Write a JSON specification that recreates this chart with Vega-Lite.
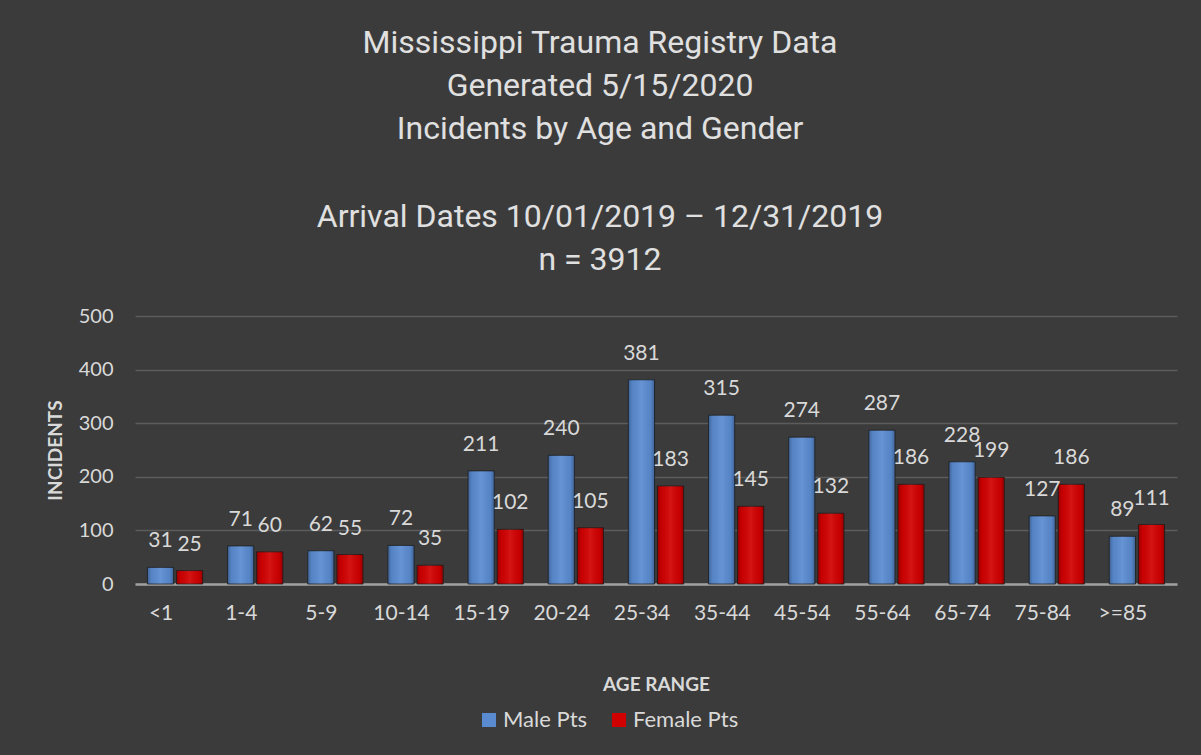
{
  "$schema": "https://vega.github.io/schema/vega-lite/v6.json",
  "width": 1042,
  "height": 268,
  "autosize": {"type": "none"},
  "padding": {"left": 135, "top": 316, "right": 24, "bottom": 171},
  "background": "#3b3b3b",
  "config": {
    "view": {"stroke": null},
    "font": "Lato",
    "axis": {"labelColor": "#d9d9d9", "titleColor": "#d9d9d9", "labelFont": "Lato", "titleFont": "Lato"}
  },
  "title": {
    "text": ["Mississippi Trauma Registry Data", "Generated 5/15/2020", "Incidents by Age and Gender"],
    "subtitle": ["Arrival Dates 10/01/2019 – 12/31/2019", "n = 3912"],
    "font": "Roboto",
    "fontSize": 32,
    "fontWeight": "normal",
    "color": "#e0e0e0",
    "lineHeight": 43,
    "subtitleFont": "Roboto",
    "subtitleFontSize": 32,
    "subtitleFontWeight": "normal",
    "subtitleColor": "#e0e0e0",
    "subtitleLineHeight": 43,
    "subtitlePadding": 56,
    "anchor": "middle",
    "dx": -56,
    "offset": 29
  },
  "data": {
    "values": [
      {"age": "<1", "gender": "Male Pts", "n": 31},
      {"age": "<1", "gender": "Female Pts", "n": 25},
      {"age": "1-4", "gender": "Male Pts", "n": 71},
      {"age": "1-4", "gender": "Female Pts", "n": 60},
      {"age": "5-9", "gender": "Male Pts", "n": 62},
      {"age": "5-9", "gender": "Female Pts", "n": 55},
      {"age": "10-14", "gender": "Male Pts", "n": 72},
      {"age": "10-14", "gender": "Female Pts", "n": 35},
      {"age": "15-19", "gender": "Male Pts", "n": 211},
      {"age": "15-19", "gender": "Female Pts", "n": 102},
      {"age": "20-24", "gender": "Male Pts", "n": 240},
      {"age": "20-24", "gender": "Female Pts", "n": 105},
      {"age": "25-34", "gender": "Male Pts", "n": 381},
      {"age": "25-34", "gender": "Female Pts", "n": 183},
      {"age": "35-44", "gender": "Male Pts", "n": 315},
      {"age": "35-44", "gender": "Female Pts", "n": 145},
      {"age": "45-54", "gender": "Male Pts", "n": 274},
      {"age": "45-54", "gender": "Female Pts", "n": 132},
      {"age": "55-64", "gender": "Male Pts", "n": 287},
      {"age": "55-64", "gender": "Female Pts", "n": 186},
      {"age": "65-74", "gender": "Male Pts", "n": 228},
      {"age": "65-74", "gender": "Female Pts", "n": 199},
      {"age": "75-84", "gender": "Male Pts", "n": 127},
      {"age": "75-84", "gender": "Female Pts", "n": 186},
      {"age": ">=85", "gender": "Male Pts", "n": 89},
      {"age": ">=85", "gender": "Female Pts", "n": 111}
    ]
  },
  "encoding": {
    "x": {
      "field": "age", "type": "nominal",
      "sort": ["<1","1-4","5-9","10-14","15-19","20-24","25-34","35-44","45-54","55-64","65-74","75-84",">=85"],
      "scale": {"paddingInner": 0.31, "paddingOuter": 0.155},
      "axis": {
        "title": "AGE RANGE", "titleFontSize": 19, "titleFontWeight": "bold", "titlePadding": 52,
        "labelAngle": 0, "labelFontSize": 21, "labelPadding": 18, "labelOffset": -14,
        "ticks": false, "domainColor": "#a0a0a0", "domainWidth": 2.5
      }
    },
    "xOffset": {"field": "gender", "type": "nominal", "sort": ["Male Pts", "Female Pts"], "scale": {"paddingInner": 0.1}},
    "y": {
      "field": "n", "type": "quantitative",
      "scale": {"domain": [0, 500]},
      "axis": {
        "title": "INCIDENTS", "titleFontSize": 19, "titleFontWeight": "bold", "titlePadding": 13,
        "values": [0, 100, 200, 300, 400, 500],
        "labelFontSize": 20, "labelPadding": 22, "ticks": false, "domain": false,
        "gridColor": "#5c5c5c", "gridWidth": 1.5
      }
    }
  },
  "layer": [
    {
      "mark": {"type": "bar", "stroke": "#1e1e1e", "strokeWidth": 0.8},
      "encoding": {
        "color": {
          "field": "gender", "type": "nominal",
          "sort": ["Male Pts", "Female Pts"],
          "scale": {"domain": ["Male Pts", "Female Pts"], "range": ["#5a8bd0", "#d10000"]},
          "legend": {
            "title": null, "orient": "none", "direction": "horizontal",
            "legendX": 343, "legendY": 393,
            "symbolType": "square", "symbolSize": 196, "symbolStrokeWidth": 0,
            "labelFontSize": 22, "labelColor": "#d9d9d9", "labelFont": "Lato",
            "labelOffset": 3, "columnPadding": 20
          }
        }
      }
    },
    {
      "mark": {
        "type": "bar",
        "fill": {
          "gradient": "linear", "x1": 0, "x2": 1, "y1": 0, "y2": 0,
          "stops": [
            {"offset": 0, "color": "rgba(0,0,0,0.28)"},
            {"offset": 0.15, "color": "rgba(0,0,0,0.05)"},
            {"offset": 0.5, "color": "rgba(255,255,255,0.08)"},
            {"offset": 0.85, "color": "rgba(0,0,0,0.05)"},
            {"offset": 1, "color": "rgba(0,0,0,0.28)"}
          ]
        }
      }
    },
    {
      "mark": {"type": "text", "baseline": "bottom", "dy": -16, "fontSize": 21, "color": "#d9d9d9", "font": "Lato"},
      "encoding": {"text": {"field": "n", "type": "quantitative"}}
    }
  ]
}
